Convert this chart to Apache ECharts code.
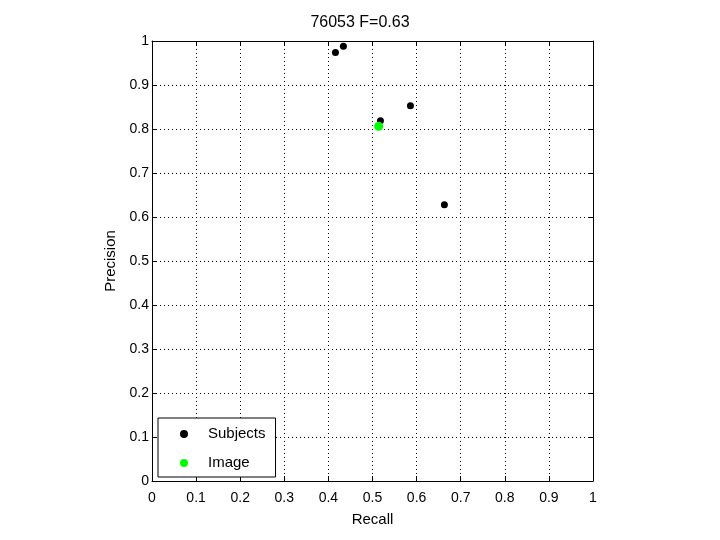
<!DOCTYPE html>
<html>
<head>
<meta charset="utf-8">
<script src="https://cdn.jsdelivr.net/npm/echarts@6/dist/echarts.min.js"></script>
<style>html,body{margin:0;padding:0;background:#fff}#c{width:720px;height:540px}</style>
</head>
<body>
<div id="c"></div>
<script>
const titleText = '76053 F=0.63';
const subjectsRecall = [0.416, 0.434, 0.518, 0.586, 0.663];
const subjectsPrecision = [0.974, 0.988, 0.819, 0.853, 0.628];
const imageRecall = [0.514];
const imagePrecision = [0.806];
const axisMin = 0, axisMax = 1, tickStep = 0.1;

const FONT = 'Liberation Sans';
const chart = echarts.init(document.getElementById('c'), null, {renderer: 'canvas'});
const pairs = (xs, ys) => xs.map((x, i) => [x, ys[i]]);
const baseAxis = {
  min: axisMin, max: axisMax, interval: tickStep,
  axisLine: {show: true, onZero: false, lineStyle: {color: '#000', width: 1}},
  axisTick: {show: true, inside: true, length: 5, lineStyle: {color: '#000'}},
};
chart.setOption({
  animation: false,
  backgroundColor: '#fff',
  title: {text: titleText, left: 'center', top: 10,
    textStyle: {fontFamily: FONT, fontSize: 16, fontWeight: 'normal', color: '#000'}},
  grid: {left: 152, top: 41, right: 127, bottom: 59},
  legend: {
    orient: 'vertical', left: 158, top: 418,
    padding: [8, 10, 6, 22], itemGap: 13, itemWidth: 8, itemHeight: 8,
    borderColor: '#000', borderWidth: 1, backgroundColor: '#fff',
    textStyle: {fontFamily: FONT, fontSize: 15, color: '#000', lineHeight: 16, padding: [0, 0, 0, 15]},
    data: [{name: 'Subjects', icon: 'circle'}, {name: 'Image', icon: 'circle'}]
  },
  xAxis: [
    Object.assign({}, baseAxis, {type: 'value', position: 'bottom',
      name: 'Recall', nameLocation: 'middle', nameGap: 31,
      nameTextStyle: {fontFamily: FONT, fontSize: 15, color: '#000'},
      axisLabel: {margin: 10, fontFamily: FONT, fontSize: 14, color: '#000'},
      splitLine: {show: true, lineStyle: {color: '#000', type: [1, 3], width: 1}}}),
    Object.assign({}, baseAxis, {type: 'value', position: 'top',
      axisLabel: {show: false}, splitLine: {show: false}})
  ],
  yAxis: [
    Object.assign({}, baseAxis, {type: 'value', position: 'left',
      name: 'Precision', nameLocation: 'middle', nameGap: 29,
      nameTextStyle: {fontFamily: FONT, fontSize: 15, color: '#000'},
      axisLabel: {margin: 3, fontFamily: FONT, fontSize: 14, color: '#000', padding: [5, 0, 0, 0]},
      splitLine: {show: true, lineStyle: {color: '#000', type: [1, 3], width: 1}}}),
    Object.assign({}, baseAxis, {type: 'value', position: 'right',
      axisLabel: {show: false}, splitLine: {show: false}})
  ],
  series: [
    {name: 'Subjects', type: 'scatter', symbol: 'circle', symbolSize: 7,
      itemStyle: {color: '#000', opacity: 1}, data: pairs(subjectsRecall, subjectsPrecision), z: 2},
    {name: 'Image', type: 'scatter', symbol: 'circle', symbolSize: 9,
      itemStyle: {color: '#00ff00', opacity: 1}, data: pairs(imageRecall, imagePrecision), z: 3}
  ]
});
</script>
</body>
</html>
